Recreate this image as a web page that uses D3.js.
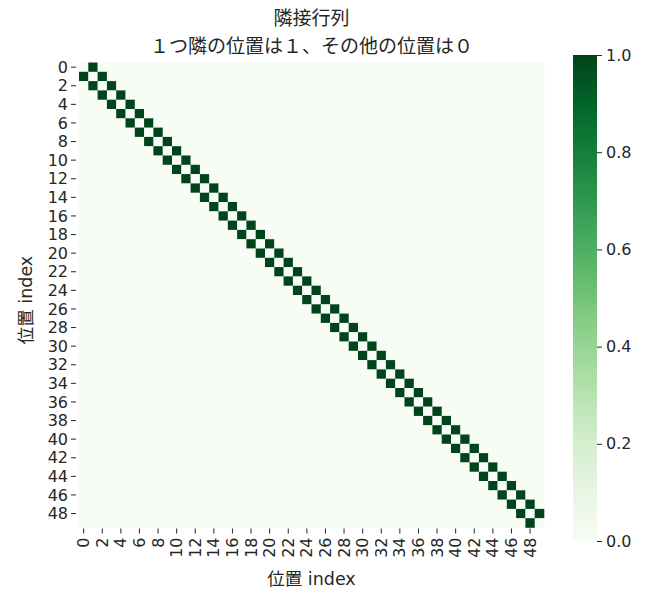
<!DOCTYPE html>
<html>
<head>
<meta charset="utf-8">
<script src="https://cdn.jsdelivr.net/npm/d3@7"></script>
<style>
  body { margin: 0; background: #fff; }
  text { font-family: "DejaVu Sans", "Noto Sans CJK JP", sans-serif; fill: #262626; }
  .cjk { font-family: "DejaVu Sans", "Noto Sans CJK JP", sans-serif; }
</style>
</head>
<body>
<script>
// positions 0..49
const positions = [0,1,2,3,4,5,6,7,8,9,10,11,12,13,14,15,16,17,18,19,20,21,22,23,24,
  25,26,27,28,29,30,31,32,33,34,35,36,37,38,39,40,41,42,43,44,45,46,47,48,49];

// for every row, the columns that hold a 1 (the neighbours one step away)
const neighbours = [
  [1],[0,2],[1,3],[2,4],[3,5],[4,6],[5,7],[6,8],[7,9],[8,10],
  [9,11],[10,12],[11,13],[12,14],[13,15],[14,16],[15,17],[16,18],[17,19],[18,20],
  [19,21],[20,22],[21,23],[22,24],[23,25],[24,26],[25,27],[26,28],[27,29],[28,30],
  [29,31],[30,32],[31,33],[32,34],[33,35],[34,36],[35,37],[36,38],[37,39],[38,40],
  [39,41],[40,42],[41,43],[42,44],[43,45],[44,46],[45,47],[46,48],[47,49],[48]
];

const tickLabels = [0,2,4,6,8,10,12,14,16,18,20,22,24,26,28,30,32,34,36,38,40,42,44,46,48];
const colorbarTicks = [0.0, 0.2, 0.4, 0.6, 0.8, 1.0];

const title1 = "隣接行列";
const title2 = "１つ隣の位置は１、その他の位置は０";
const axisLabel = "位置 index";

const W = 652, H = 597;
const heat = { left: 79, top: 62.5, size: 465 };
const cbar = { left: 573, top: 55, width: 24, height: 486 };

const cells = [];
positions.forEach(r => {
  positions.forEach(c => {
    cells.push({ row: r, col: c, value: neighbours[r].includes(c) ? 1 : 0 });
  });
});

const color = d3.scaleSequential(d3.interpolateGreens).domain([0, 1]);

const x = d3.scaleBand().domain(positions).range([heat.left, heat.left + heat.size]);
const y = d3.scaleBand().domain(positions).range([heat.top, heat.top + heat.size]);

const svg = d3.select("body").append("svg")
  .attr("width", W)
  .attr("height", H);

// background so no seams show between cells
svg.append("rect")
  .attr("x", heat.left).attr("y", heat.top)
  .attr("width", heat.size).attr("height", heat.size)
  .attr("fill", color(0));

svg.append("g")
  .selectAll("rect")
  .data(cells)
  .join("rect")
  .attr("x", d => x(d.col))
  .attr("y", d => y(d.row))
  .attr("width", x.bandwidth() + 0.3)
  .attr("height", y.bandwidth() + 0.3)
  .attr("fill", d => color(d.value));

// y ticks
const yt = svg.append("g").selectAll("g")
  .data(tickLabels)
  .join("g")
  .attr("transform", d => `translate(0,${y(d) + y.bandwidth() / 2})`);
yt.append("line")
  .attr("x1", heat.left - 8).attr("x2", heat.left - 3)
  .attr("stroke", "#262626").attr("stroke-width", 1);
yt.append("text")
  .attr("x", heat.left - 11)
  .attr("dy", "0.35em")
  .attr("text-anchor", "end")
  .attr("font-size", 16)
  .text(d => d);

// x ticks
const xt = svg.append("g").selectAll("g")
  .data(tickLabels)
  .join("g")
  .attr("transform", d => `translate(${x(d) + x.bandwidth() / 2},0)`);
xt.append("line")
  .attr("y1", heat.top + heat.size + 1).attr("y2", heat.top + heat.size + 6)
  .attr("stroke", "#262626").attr("stroke-width", 1);
xt.append("text")
  .attr("transform", `translate(0,${heat.top + heat.size + 10}) rotate(-90)`)
  .attr("dy", "0.35em")
  .attr("text-anchor", "end")
  .attr("font-size", 16)
  .text(d => d);

// axis labels
svg.append("text")
  .attr("class", "cjk")
  .attr("x", heat.left + heat.size / 2)
  .attr("y", 585)
  .attr("text-anchor", "middle")
  .attr("font-size", 17.5)
  .text(axisLabel);

svg.append("text")
  .attr("class", "cjk")
  .attr("transform", `translate(32,300) rotate(-90)`)
  .attr("text-anchor", "middle")
  .attr("font-size", 17.5)
  .text(axisLabel);

// title
svg.append("text")
  .attr("class", "cjk")
  .attr("x", heat.left + heat.size / 2)
  .attr("y", 25)
  .attr("text-anchor", "middle")
  .attr("font-size", 19)
  .text(title1);
svg.append("text")
  .attr("class", "cjk")
  .attr("x", heat.left + heat.size / 2)
  .attr("y", 53)
  .attr("text-anchor", "middle")
  .attr("font-size", 19)
  .text(title2);

// colorbar
const grad = svg.append("defs").append("linearGradient")
  .attr("id", "cbgrad")
  .attr("x1", 0).attr("y1", 1).attr("x2", 0).attr("y2", 0);
grad.selectAll("stop")
  .data(d3.range(0, 1.0001, 0.05))
  .join("stop")
  .attr("offset", d => d)
  .attr("stop-color", d => color(d));

svg.append("rect")
  .attr("x", cbar.left).attr("y", cbar.top)
  .attr("width", cbar.width).attr("height", cbar.height)
  .attr("fill", "url(#cbgrad)");

const cy = d3.scaleLinear().domain([0, 1]).range([cbar.top + cbar.height, cbar.top]);
const cbAxis = d3.axisRight(cy)
  .tickValues(colorbarTicks)
  .tickFormat(d3.format(".1f"))
  .tickSize(5)
  .tickPadding(4);
svg.append("g")
  .attr("transform", `translate(${cbar.left + cbar.width},0)`)
  .call(cbAxis)
  .call(g => g.select(".domain").remove())
  .call(g => g.selectAll("text").attr("font-size", 16).attr("fill", "#262626")
    .style("font-family", "DejaVu Sans"))
  .call(g => g.selectAll("line").attr("stroke", "#262626"));
</script>
</body>
</html>
